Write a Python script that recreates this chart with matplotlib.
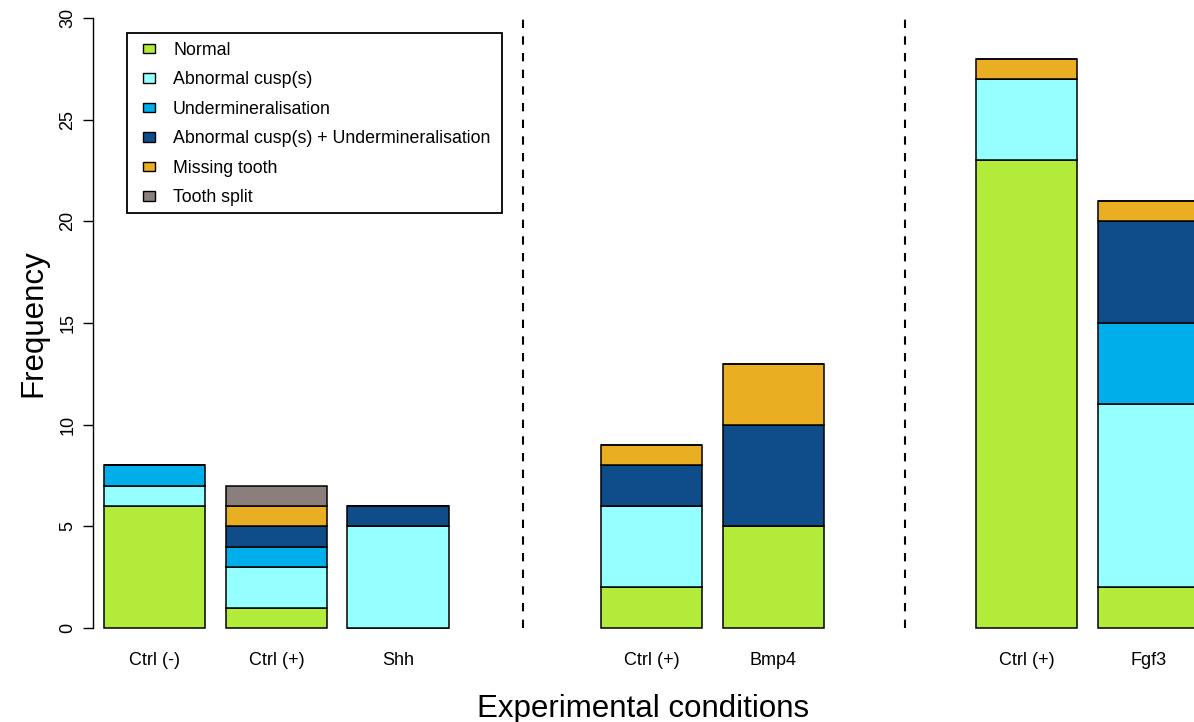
import matplotlib.pyplot as plt
from matplotlib.patches import Patch, Rectangle

plt.rcParams['font.family'] = ['Liberation Sans', 'DejaVu Sans']

conditions = ["Ctrl (-)", "Ctrl (+)", "Shh", "Ctrl (+)", "Bmp4", "Ctrl (+)", "Fgf3"]
positions = [0.7, 1.9, 3.1, 5.6, 6.8, 9.3, 10.5]
separators = [4.33, 8.1]

categories = ["Normal", "Abnormal cusp(s)", "Undermineralisation",
              "Abnormal cusp(s) + Undermineralisation", "Missing tooth", "Tooth split"]
colors = ["#B2EB3A", "#96FFFF", "#00AEEA", "#0F4C8A", "#EAAE22", "#8A7F7C"]

normal = [6, 1, 0, 2, 5, 23, 2]
abnormal_cusp = [1, 2, 5, 4, 0, 4, 9]
undermineralisation = [1, 1, 0, 0, 0, 0, 4]
cusp_and_under = [0, 1, 1, 2, 5, 0, 5]
missing_tooth = [0, 1, 0, 1, 3, 1, 1]
tooth_split = [0, 1, 0, 0, 0, 0, 0]

series = [normal, abnormal_cusp, undermineralisation, cusp_and_under, missing_tooth, tooth_split]

W, H = 1194, 722
scale = 101.4  # pixels per bar unit
fig = plt.figure(figsize=(W / 100, H / 100), dpi=100)
ax = fig.add_axes([93 / W, (H - 628) / H, 1 - 93 / W, (628 - 18) / H])

bottom = [0] * len(conditions)
for vals, col in zip(series, colors):
    ax.bar(positions, vals, width=1.0, bottom=bottom, color=col,
           edgecolor="black", linewidth=1.1, clip_on=False)
    bottom = [b + v for b, v in zip(bottom, vals)]

for xs in separators:
    ax.plot([xs, xs], [0, 30], color="black", linestyle=(0, (4, 4)),
            linewidth=1.5, clip_on=False)

ax.set_xlim(0.2 + (93 - 104) / scale, 0.2 + (W - 104) / scale)
ax.set_ylim(0, 30)

for s in ["top", "right", "bottom"]:
    ax.spines[s].set_visible(False)
ax.spines["left"].set_bounds(0, 30)
ax.spines["left"].set_linewidth(1.0)

ax.set_yticks([0, 5, 10, 15, 20, 25, 30])
ax.tick_params(axis="y", length=7, width=1.0, labelsize=13, pad=5)
for lab in ax.get_yticklabels():
    lab.set_rotation(90)
    lab.set_verticalalignment("center")

ax.set_xticks(positions)
ax.set_xticklabels(conditions)
ax.tick_params(axis="x", length=0, labelsize=13, pad=17)

ax.set_ylabel("Frequency", fontsize=22.5, labelpad=8)
ax.set_xlabel("Experimental conditions", fontsize=22.5, labelpad=18)

# legend box drawn separately so the padding can be wider than tall
ax.add_patch(Rectangle((127 / W, (H - 213) / H), (502 - 127) / W, 180 / H,
                       transform=fig.transFigure, facecolor="white",
                       edgecolor="black", linewidth=1.3, zorder=5, clip_on=False))
handles = [Patch(facecolor=c, edgecolor="black", linewidth=1.0) for c in colors]
leg = ax.legend(handles, categories, loc="upper left",
                bbox_to_anchor=(134 / W, (H - 33) / H), bbox_transform=fig.transFigure,
                fontsize=12.8, frameon=False, handlelength=0.7, handleheight=0.45,
                handletextpad=1.0, labelspacing=0.70, borderpad=0.5, borderaxespad=0)
leg.set_zorder(6)

plt.savefig("out.png", dpi=100)
